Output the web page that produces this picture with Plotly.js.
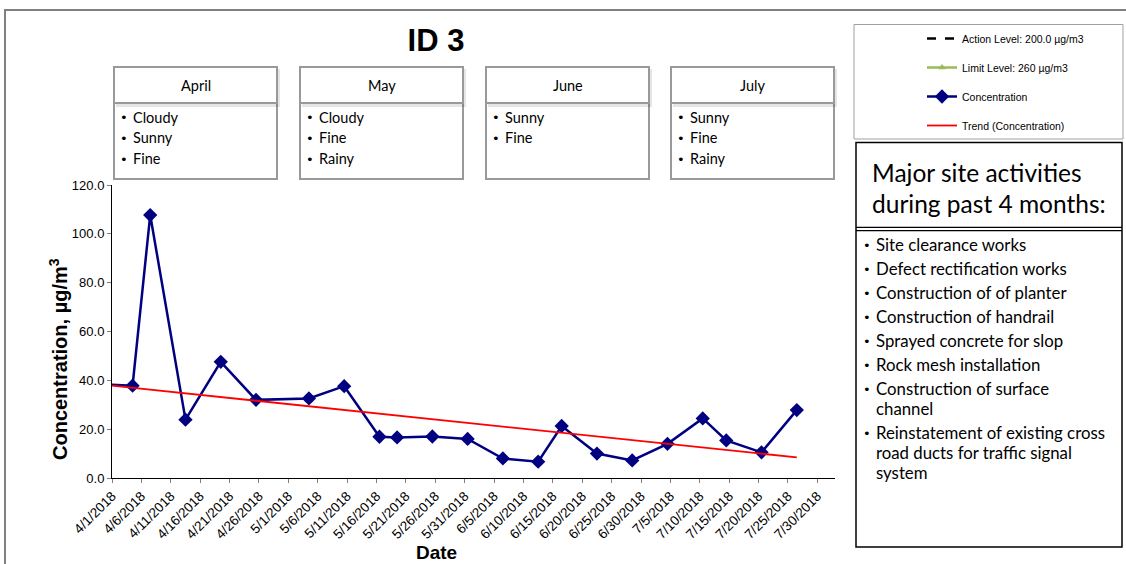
<!DOCTYPE html>
<html>
<head>
<meta charset="utf-8">
<script src="https://cdn.plot.ly/plotly-3.0.1.min.js"></script>
<style>html,body{margin:0;padding:0;background:#fff;}#chart{width:1126px;height:564px;}</style>
</head>
<body>
<div id="chart"></div>
<script>
// ---- Data ----
const concDates = ["2018-03-29 12:00","2018-04-04 12:00","2018-04-07 12:00","2018-04-13 12:00","2018-04-19 12:00","2018-04-25 12:00","2018-05-04 12:00","2018-05-10 12:00","2018-05-16 12:00","2018-05-19 12:00","2018-05-25 12:00","2018-05-31 12:00","2018-06-06 12:00","2018-06-12 12:00","2018-06-16 12:00","2018-06-22 12:00","2018-06-28 12:00","2018-07-04 12:00","2018-07-10 12:00","2018-07-14 12:00","2018-07-20 12:00","2018-07-26 12:00"];
const concValues = [38.5,37.8,107.7,23.9,47.6,32.0,32.6,37.6,16.9,16.6,17.0,16.0,8.0,6.7,21.3,10.0,7.2,14.0,24.4,15.4,10.5,27.8];
const actionLevel = 200.0;
const limitLevel = 260;
const trendDates = ["2018-03-29 12:00","2018-07-26 12:00"];
const trendValues = [38.45, 8.45];
const months = ["April","May","June","July"];
const weather = [["Cloudy","Sunny","Fine"],["Cloudy","Fine","Rainy"],["Sunny","Fine"],["Sunny","Fine","Rainy"]];
const activitiesTitle = ["Major site activities","during past 4 months:"];
const activities = ["Site clearance works","Defect rectification works","Construction of of planter","Construction of handrail","Sprayed concrete for slop","Rock mesh installation","Construction of surface\nchannel","Reinstatement of existing cross\nroad ducts for traffic signal\nsystem"];
const legendNames = ["Action Level: 200.0 \u00b5g/m3","Limit Level: 260 \u00b5g/m3","Concentration","Trend (Concentration)"];

// ---- Layout geometry helpers (pixels -> paper) ----
const W = 1126, H = 564;
const L = 112, R = 835, T = 185, B = 478;
const px = x => (x - L) / (R - L);
const py = y => (B - y) / (B - T);
const ARIAL = "Arial, 'Liberation Sans', sans-serif";
const BOXFONT = "Lato, 'Noto Sans', sans-serif";
const BULLETFONT = {family: "'DejaVu Sans', sans-serif", size: 13, color: '#000'};

const traces = [
  {x: concDates, y: concDates.map(() => actionLevel), name: legendNames[0], mode: 'lines', legendgroup: 'a',
   line: {color: '#000000', width: 2.5, dash: 'dash'}, hoverinfo: 'skip'},
  {x: concDates, y: concDates.map(() => limitLevel), name: legendNames[1], mode: 'lines+markers', legendgroup: 'b',
   line: {color: '#9BBB59', width: 2.5}, marker: {symbol: 'triangle-up', size: 7, color: '#9BBB59'}, hoverinfo: 'skip'},
  {x: concDates, y: concValues, name: legendNames[2], mode: 'lines+markers', legendgroup: 'c',
   line: {color: '#000080', width: 2.5}, marker: {symbol: 'diamond', size: 11, color: '#000080'}},
  {x: trendDates, y: trendValues, name: legendNames[3], mode: 'lines', legendgroup: 'd',
   line: {color: '#FF0000', width: 1.8}, hoverinfo: 'skip'}
];

const shapes = [];
const annotations = [];
// outer chart border
shapes.push({type: 'rect', xref: 'paper', yref: 'paper', x0: px(5), x1: px(1140), y0: py(10), y1: py(590),
  line: {color: '#808080', width: 2}, fillcolor: 'rgba(0,0,0,0)'});
// legend box
shapes.push({type: 'rect', xref: 'paper', yref: 'paper', x0: px(854), x1: px(1123), y0: py(24.5), y1: py(139),
  line: {color: '#a0a0a0', width: 1}, fillcolor: 'rgba(0,0,0,0)'});

// weather boxes
const boxLeft = [114, 300, 486, 671];
const boxW = 163;
months.forEach((m, i) => {
  const x0 = boxLeft[i], x1 = boxLeft[i] + boxW;
  shapes.push({type: 'rect', xref: 'paper', yref: 'paper', x0: px(x0), x1: px(x1), y0: py(103), y1: py(179),
    line: {color: '#999999', width: 2}, fillcolor: '#ffffff'});
  shapes.push({type: 'rect', xref: 'paper', yref: 'paper', x0: px(x0 + 2), x1: px(x1 + 3), y0: py(69), y1: py(107),
    line: {width: 0}, fillcolor: 'rgba(0,0,0,0.10)'});
  shapes.push({type: 'rect', xref: 'paper', yref: 'paper', x0: px(x0), x1: px(x1), y0: py(67), y1: py(103),
    line: {color: '#999999', width: 2}, fillcolor: '#ffffff'});
  annotations.push({xref: 'paper', yref: 'paper', x: px((x0 + x1) / 2), y: py(85), text: m, showarrow: false,
    xanchor: 'center', yanchor: 'middle', font: {family: BOXFONT, size: 14.5, color: '#000'}});
  weather[i].forEach((w, j) => {
    annotations.push({xref: 'paper', yref: 'paper', x: px(x0 + 4), y: py(118 + j * 20.5), text: '\u2022', showarrow: false,
      xanchor: 'left', yanchor: 'middle', font: BULLETFONT});
    annotations.push({xref: 'paper', yref: 'paper', x: px(x0 + 17), y: py(117 + j * 20.5), text: w, showarrow: false,
      xanchor: 'left', yanchor: 'middle', font: {family: BOXFONT, size: 14.5, color: '#000'}});
  });
});

// activities box
shapes.push({type: 'rect', xref: 'paper', yref: 'paper', x0: px(856), x1: px(1122), y0: py(142.5), y1: py(547),
  line: {color: '#000000', width: 1.5}, fillcolor: 'rgba(0,0,0,0)'});
shapes.push({type: 'line', xref: 'paper', yref: 'paper', x0: px(856), x1: px(1122), y0: py(227.3), y1: py(227.3),
  line: {color: '#000000', width: 1.2}});
shapes.push({type: 'line', xref: 'paper', yref: 'paper', x0: px(856), x1: px(1122), y0: py(230.7), y1: py(230.7),
  line: {color: '#000000', width: 1.2}});
activitiesTitle.forEach((t, i) => {
  annotations.push({xref: 'paper', yref: 'paper', x: px(870), y: py(172 + i * 31), text: t, showarrow: false,
    xanchor: 'left', yanchor: 'middle', font: {family: BOXFONT, size: 24.5, color: '#000'}});
});
let yc = 244;
activities.forEach((a) => {
  a.split('\n').forEach((ln, k) => {
    if (k === 0) {
      annotations.push({xref: 'paper', yref: 'paper', x: px(861), y: py(yc + 1), text: '\u2022', showarrow: false,
        xanchor: 'left', yanchor: 'middle', font: BULLETFONT});
    }
    annotations.push({xref: 'paper', yref: 'paper', x: px(874), y: py(yc), text: ln, showarrow: false,
      xanchor: 'left', yanchor: 'middle', font: {family: BOXFONT, size: 16.8, color: '#000'}});
    yc += 20;
  });
  yc += 4;
});

// axis titles
annotations.push({xref: 'paper', yref: 'paper', x: px(436), y: py(552), text: '<b>Date</b>', showarrow: false,
  xanchor: 'center', yanchor: 'middle', font: {family: ARIAL, size: 19, color: '#000'}});
annotations.push({xref: 'paper', yref: 'paper', x: px(58), y: py(359), text: '<b>Concentration, \u00b5g/m<sup>3</sup></b>', showarrow: false,
  textangle: -90, xanchor: 'center', yanchor: 'middle', font: {family: ARIAL, size: 20, color: '#000'}});

const layout = {
  width: W, height: H,
  margin: {l: L, r: W - R, t: T, b: H - B, pad: 0},
  paper_bgcolor: '#ffffff', plot_bgcolor: '#ffffff',
  title: {text: '<b>ID 3</b>', x: 436 / W, xanchor: 'center', y: 1 - 40 / H, yanchor: 'middle',
    font: {family: ARIAL, size: 31, color: '#000'}},
  xaxis: {type: 'date', range: ['2018-04-01', '2018-08-02'], tick0: '2018-04-01', dtick: 5 * 86400000,
    tickformat: '%-m/%-d/%Y', tickangle: -45, ticks: 'outside', ticklen: 4, tickcolor: '#808080',
    showline: true, linecolor: '#000', linewidth: 1, showgrid: false, zeroline: false,
    tickfont: {family: ARIAL, size: 13.5, color: '#000'}},
  yaxis: {range: [0, 120], dtick: 20, tick0: 0, tickformat: '.1f', ticks: 'outside', ticklen: 4, tickcolor: '#808080',
    showline: true, linecolor: '#000', linewidth: 1, showgrid: false, zeroline: false,
    tickfont: {family: ARIAL, size: 13, color: '#000'}},
  showlegend: true,
  legend: {x: px(922), xanchor: 'left', y: py(24), yanchor: 'top', bgcolor: 'rgba(0,0,0,0)', borderwidth: 0,
    font: {family: ARIAL, size: 10.5, color: '#000'}, tracegroupgap: 10, traceorder: 'grouped'},
  shapes: shapes,
  annotations: annotations
};

Plotly.newPlot('chart', traces, layout, {displayModeBar: false, staticPlot: true});
</script>
</body>
</html>
